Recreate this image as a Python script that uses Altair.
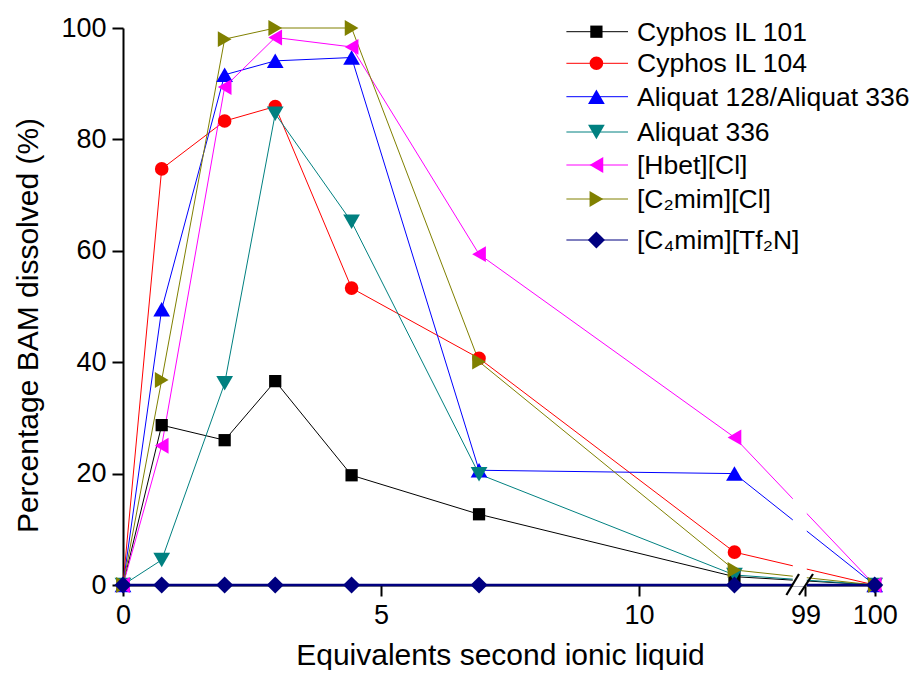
import altair as alt
import pandas as pd

# ---------------- data ----------------
X_VALUES = [0, 0.75, 1.97, 2.95, 4.43, 6.9, 11.85, 100]
SERIES = ["Cyphos IL 101", "Cyphos IL 104", "Aliquat 128/Aliquat 336", "Aliquat 336",
          "[Hbet][Cl]", "[C₂mim][Cl]", "[C₄mim][Tf₂N]"]
CYPHOS_101 = [0, 28.7, 26.0, 36.6, 19.7, 12.7, 1.5, 0]
CYPHOS_104 = [0, 74.7, 83.3, 85.9, 53.3, 40.7, 5.9, 0]
ALIQUAT_128_336 = [0, 49.5, 91.6, 94.1, 94.7, 20.6, 20.0, 0]
ALIQUAT_336 = [0, 4.5, 36.2, 84.6, 65.2, 19.9, 1.8, 0]
HBET_CL = [0, 25.0, 89.4, 98.3, 96.6, 59.4, 26.5, 0]
C2MIM_CL = [0, 36.8, 98.0, 100.0, 100.0, 40.1, 2.7, 0]
C4MIM_TF2N = [0, 0, 0, 0, 0, 0, 0, 0]
X_TICKS = [0, 5, 10, 99, 100]
Y_TICKS = [0, 20, 40, 60, 80, 100]
BREAK = [13, 99]

# ---------------- styles / layout ----------------
COLORS = ["#000000", "#FF0000", "#0000FF", "#008080", "#FF00FF", "#808000", "#000080"]
SHAPES = ["square", "circle", "triangle-up", "triangle-down", "triangle-left",
          "triangle-right", "diamond"]
SIZES = [150, 185, 280, 280, 250, 250, 290]
WIDTHS = [1, 1, 1, 1, 1, 1, 2.5]
FONT = "Liberation Sans, Arial, sans-serif"
W, H = 759, 557
SEG1 = 51.6          # px per unit before the break
SEG2 = 69.3          # px per unit after the break
R13 = BREAK[0] * SEG1
R99 = R13 + 11.6
X_DOMAIN = [0, BREAK[0], BREAK[1], 100.1]
X_RANGE = [0, R13, R99, R99 + 1.1 * SEG2]
LEGEND_ROW_Y = [3.7, 35.3, 68.7, 104, 137, 171, 212]
LEG_LINE_X = (443.4, 505)
LEG_SYM_X = 473.4
LEG_TEXT_X = 514

all_y = [CYPHOS_101, CYPHOS_104, ALIQUAT_128_336, ALIQUAT_336, HBET_CL, C2MIM_CL, C4MIM_TF2N]
rows = []
for name, ys, sz, sw in zip(SERIES, all_y, SIZES, WIDTHS):
    for x, y in zip(X_VALUES, ys):
        rows.append({"x": x, "y": y, "series": name, "msize": sz, "lw": sw})
df = pd.DataFrame(rows)

leg = pd.DataFrame({"series": SERIES, "ly": LEGEND_ROW_Y, "msize": SIZES})

color = alt.Color("series:N", scale=alt.Scale(domain=SERIES, range=COLORS), legend=None)
shape = alt.Shape("series:N", scale=alt.Scale(domain=SERIES, range=SHAPES), legend=None)
size = alt.Size("msize:Q", scale=None, legend=None)
swidth = alt.StrokeWidth("lw:Q", scale=None, legend=None)

xenc = alt.X("x:Q",
             scale=alt.Scale(domain=X_DOMAIN, range=X_RANGE, nice=False, zero=False),
             axis=alt.Axis(values=X_TICKS, title="Equivalents second ionic liquid",
                           titleX=377, titleY=79, titleBaseline="alphabetic",
                           titleAlign="center", labelFlush=False, format="d"))
yenc = alt.Y("y:Q", scale=alt.Scale(domain=[0, 100], nice=False),
             axis=alt.Axis(values=Y_TICKS, title="Percentage BAM dissolved (%)",
                           titleX=-86, titleY=297, titleAngle=-90,
                           titleBaseline="alphabetic", titleAlign="center"))

base = alt.Chart(df)
lines = base.mark_line(clip=False).encode(
    x=xenc, y=yenc, color=color, strokeWidth=swidth, detail="series:N")

gap = alt.Chart(pd.DataFrame({"a": [0]})).mark_rect(color="white").encode(
    x=alt.X(datum=BREAK[0] - 0.02), x2=alt.X2(datum=BREAK[1] + 0.02),
    y=alt.value(-2), y2=alt.value(H + 1.6))

slash1 = alt.Chart(pd.DataFrame({"a": [0]})).mark_rule(color="black", strokeWidth=2.2).encode(
    x=alt.value(R13 - 7.4), x2=alt.value(R13 + 5.2), y=alt.value(H + 10), y2=alt.value(H - 11))
slash2 = alt.Chart(pd.DataFrame({"a": [0]})).mark_rule(color="black", strokeWidth=2.2).encode(
    x=alt.value(R99 - 6.4), x2=alt.value(R99 + 7.6), y=alt.value(H + 10), y2=alt.value(H - 11))

points = base.mark_point(filled=True, opacity=1, clip=False).encode(
    x="x:Q", y="y:Q", color=color, shape=shape, size=size)

legbase = alt.Chart(leg)
leg_lines = legbase.mark_rule(strokeWidth=1).encode(
    x=alt.value(LEG_LINE_X[0]), x2=alt.value(LEG_LINE_X[1]),
    y=alt.Y("ly:Q", scale=None, axis=None), color=color)
leg_pts = legbase.mark_point(filled=True, opacity=1).encode(
    x=alt.value(LEG_SYM_X), y=alt.Y("ly:Q", scale=None, axis=None),
    color=color, shape=shape, size=size)
leg_text = legbase.mark_text(align="left", baseline="middle", fontSize=26.5, font=FONT,
                             color="black", dy=1).encode(
    x=alt.value(LEG_TEXT_X), y=alt.Y("ly:Q", scale=None, axis=None), text="series:N")

chart = alt.layer(lines, gap, slash1, slash2, points, leg_lines, leg_pts, leg_text).properties(
    width=W, height=H,
    autosize=alt.AutoSizeParams(type="none"),
    padding={"left": 115, "top": 20, "right": 32, "bottom": 85},
).configure_view(stroke=None).configure_axis(
    grid=False, domainColor="black", domainWidth=2, tickColor="black", tickWidth=2,
    tickSize=11, labelFont=FONT, labelFontSize=27, labelColor="black", labelPadding=6,
    titleFont=FONT, titleFontSize=30, titleFontWeight="normal", titleColor="black",
)

chart.save("out.html", embed_options={"renderer": "svg", "actions": False})
